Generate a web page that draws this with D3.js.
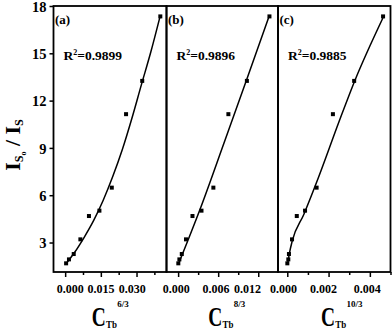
<!DOCTYPE html>
<html><head><meta charset="utf-8">
<script src="https://cdn.jsdelivr.net/npm/d3@7"></script>
<style>
html,body{margin:0;padding:0;background:#fff;}
svg{display:block;}
text{font-family:"Liberation Serif","Times New Roman",serif;font-weight:bold;fill:#000;}
</style></head>
<body>
<svg id="chart" width="392" height="331"></svg>
<script>
// ---- data ----
const ratio = [1.68, 1.93, 2.27, 3.20, 4.68, 5.02, 6.48, 11.14, 13.25, 17.34];
const xA = [0.0004, 0.0016, 0.0036, 0.0064, 0.0100, 0.0144, 0.0196, 0.0256, 0.0324, 0.0400];
const xB = [0.00003, 0.00019, 0.00055, 0.00118, 0.00215, 0.00350, 0.00528, 0.00753, 0.01030, 0.01368];
const xC = [0.000002, 0.00005, 0.00008, 0.00023, 0.00046, 0.00086, 0.00142, 0.00221, 0.00324, 0.00464];

const fitAx = [0.0004, 0.004, 0.008, 0.012, 0.016, 0.020, 0.024, 0.028, 0.032, 0.036, 0.0398];
const fitAy = [1.66, 2.38, 3.33, 4.40, 5.68, 7.18, 8.88, 10.85, 12.98, 15.08, 17.28];
const fitBx = [0.00003, 0.0034, 0.00686, 0.0103, 0.0136];
const fitBy = [1.62, 5.24, 9.30, 13.37, 17.32];
const fitCx = [0.00002, 0.0001, 0.00024, 0.0008, 0.0015, 0.0025, 0.0033, 0.0040, 0.00463];
const fitCy = [1.67, 2.30, 3.10, 4.78, 7.09, 10.64, 13.36, 15.46, 17.24];

const panelLabels = ["(a)", "(b)", "(c)"];
const r2Values = ["0.9899", "0.9896", "0.9885"];
const exponents = ["6/3", "8/3", "10/3"];
const xTicksA = [0, 0.015, 0.030];
const xTicksB = [0, 0.006, 0.012];
const xTicksC = [0, 0.002, 0.004];
const yTicks = [3, 6, 9, 12, 15, 18];

// ---- layout ----
const svg = d3.select("#chart");
const plotTop = 6, plotBottom = 272;
const panels = [
  {x0: 53.5, x1: 166.5, dom: [-0.0049, 0.0426], xs: xA, fx: fitAx, fy: fitAy, ticks: xTicksA, minor: 0.0075,
   labelDx: [4.7, -0.3, -4.7], titleX: 91.7},
  {x0: 166.5, x1: 278, dom: [-0.00174, 0.01496], xs: xB, fx: fitBx, fy: fitBy, ticks: xTicksB, minor: 0.003,
   labelDx: [-2.3, -2.8, -11.3], titleX: 208.3},
  {x0: 278, x1: 390.5, dom: [-0.00045, 0.0050], xs: xC, fx: fitCx, fy: fitCy, ticks: xTicksC, minor: 0.001,
   labelDx: [-4.3, -5.7, -3], titleX: 321}
];
const y = d3.scaleLinear().domain([1.13, 18]).range([plotBottom, plotTop]);
const fmt = d3.format(".3f");

panels.forEach((p, i) => {
  const x = d3.scaleLinear().domain(p.dom).range([p.x0, p.x1]);
  const minorVals = d3.range(0, p.dom[1] + 1e-9, p.minor).filter(v => !p.ticks.some(t => Math.abs(t - v) < 1e-9));
  svg.append("g").attr("transform", `translate(0,${plotBottom})`)
    .call(d3.axisBottom(x).tickValues(minorVals).tickSize(3).tickFormat(""))
    .call(g => g.select(".domain").remove())
    .call(g => g.selectAll("line").attr("stroke", "#000").attr("stroke-width", 1.5));
  svg.append("g").attr("transform", `translate(0,${plotBottom})`)
    .call(d3.axisBottom(x).tickValues(p.ticks).tickSize(5).tickPadding(7).tickFormat(fmt))
    .call(g => g.select(".domain").remove())
    .call(g => g.selectAll("line").attr("stroke", "#000").attr("stroke-width", 1.5))
    .call(g => g.selectAll("text").attr("font-size", 12).attr("font-family", "Liberation Serif")
      .attr("font-weight", "bold").attr("fill", "#000").attr("dx", (d, k) => p.labelDx[k]));

  svg.append("rect").attr("x", p.x0).attr("y", plotTop).attr("width", p.x1 - p.x0).attr("height", plotBottom - plotTop)
    .attr("fill", "none").attr("stroke", "#000").attr("stroke-width", 1.8);

  const line = d3.line().x(d => x(d[0])).y(d => y(d[1])).curve(d3.curveMonotoneX);
  svg.append("path").datum(p.fx.map((v, k) => [v, p.fy[k]]))
    .attr("d", line).attr("fill", "none").attr("stroke", "#000").attr("stroke-width", 1.5);

  svg.append("g").selectAll("rect").data(p.xs.map((v, k) => [v, ratio[k]])).join("rect")
    .attr("x", d => x(d[0]) - 2).attr("y", d => y(d[1]) - 2).attr("width", 4).attr("height", 4).attr("fill", "#000");

  svg.append("text").attr("x", p.x0 + 1.5).attr("y", 24).attr("font-size", 13).text(panelLabels[i]);
  const r = svg.append("text").attr("x", p.x0 + 10).attr("y", 60).attr("font-size", 13.5);
  r.append("tspan").text("R");
  r.append("tspan").attr("font-size", 8).attr("dy", -5.5).text("2");
  r.append("tspan").attr("dy", 5.5).text("=" + r2Values[i]);

  // x title: C_Tb^n
  svg.append("text").attr("transform", `translate(${p.titleX},326) scale(0.72,1)`).attr("font-size", 27).text("C");
  svg.append("text").attr("transform", `translate(${p.titleX + 14.3},327.5) scale(0.85,1)`).attr("font-size", 10.5).text("Tb");
  svg.append("text").attr("x", p.titleX + 25.5).attr("y", 306.5).attr("font-size", 9).text(exponents[i]);
});

svg.append("g").attr("transform", `translate(${panels[0].x0},0)`)
  .call(d3.axisLeft(y).tickValues(yTicks).tickSize(4).tickPadding(3).tickFormat(d3.format("d")))
  .call(g => g.select(".domain").remove())
  .call(g => g.selectAll("line").attr("stroke", "#000").attr("stroke-width", 1.5))
  .call(g => g.selectAll("text").attr("font-size", 14.5).attr("font-family", "Liberation Serif")
    .attr("font-weight", "bold").attr("fill", "#000").attr("dy", "0.37em"));

const yt = svg.append("text").attr("transform", "translate(19.5,145) rotate(-90)")
  .attr("text-anchor", "middle").attr("font-size", 22);
yt.append("tspan").text("I");
yt.append("tspan").attr("font-size", 12).attr("dy", 3).text("S");
yt.append("tspan").attr("font-size", 8).attr("dy", 3).text("o");
yt.append("tspan").attr("dy", -6).text(" / I");
yt.append("tspan").attr("font-size", 12).attr("dy", 3).text("S");
</script>
</body></html>
